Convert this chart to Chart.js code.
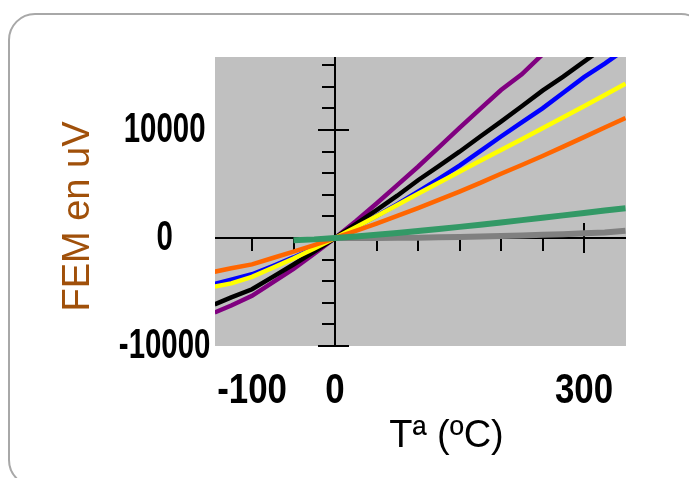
<!DOCTYPE html>
<html><head><meta charset="utf-8">
<script src="https://cdn.jsdelivr.net/npm/chart.js@4.4.1/dist/chart.umd.min.js"></script>
<style>
html,body{margin:0;padding:0;background:#fff;overflow:hidden;}
#wrap{position:relative;width:689px;height:478px;overflow:hidden;}
#frame{position:absolute;left:8px;top:13px;width:696px;height:470px;border:2px solid #a8a8a8;border-radius:27px;}
canvas{position:absolute;left:0;top:0;}
</style></head><body>
<div id="wrap"><div id="frame"></div><canvas id="c" width="689" height="478"></canvas></div>
<script>
// Temperatures (ºC)
const T_ALL = [-145,-125,-100,-75,-50,-25,0,25,50,75,100,125,150,175,200,225,250,275,300,325,350];
const T_S   = [-50,-25,0,25,50,75,100,125,150,175,200,225,250,275,300,325,350];
const T_B   = [0,25,50,75,100,125,150,175,200,225,250,275,300,325,350];

// FEM values (uV)
const purpleVals = [-6900,-6250,-5350,-4100,-2850,-1450,0,1550,3200,4900,6600,8400,10200,11950,13700,15150,17000,18500,null,null,null];
const blackVals  = [-6150,-5500,-4750,-3600,-2450,-1250,0,1277,2585,3918,5350,6650,7990,9400,10780,12200,13650,14950,16330,17700,null];
const blueVals   = [-4250,-3850,-3360,-2600,-1800,-940,0,992,2036,3131,4279,5470,6704,8050,9400,10700,12000,13450,14900,16150,17500];
const yellowVals = [-4500,-4200,-3600,-2750,-1900,-968,0,1000,2023,3058,4096,5124,6138,7150,8150,9141,10153,11176,12209,13248,14293];
const orangeVals = [-3120,-2800,-2440,-1850,-1270,-650,0,659,1340,2050,2774,3530,4302,5100,5950,6760,7597,8465,9341,10234,11100];
const greenVals  = [-200,-127,0,143,299,467,645,833,1029,1232,1441,1655,1874,2097,2323,2553,2750];
const grayVals   = [0,-2,2,15,33,59,92,132,178,230,291,357,431,510,680];

// Axis ticks and labels
const X_TICKS = [-100,-50,0,50,100,150,200,250,300];
const X_LABELS = [-100,0,300];
const X_MAJOR = [300];
const Y_TICKS = [-10000,-8000,-6000,-4000,-2000,0,2000,4000,6000,8000,10000,12000,14000,16000];
const Y_LABELS = [-10000,0,10000];
const Y_MAJOR = [-10000,10000];

function pts(ts, vs){ const out=[]; ts.forEach((t,i)=>{ if(vs[i]!==null) out.push({x:t,y:vs[i]}); }); return out; }

const TICKFAM = "'Liberation Sans', Arial, sans-serif";

// draw the scale's own label items with a horizontal squeeze (narrow bold look)
function squeezeLabels(sx){
  return function(chartArea){
    const ctx=this.ctx;
    const items=this.getLabelItems(chartArea);
    for(const it of items){
      if(!it.label) continue;
      const o=it.options;
      ctx.save();
      ctx.translate(o.translation[0], o.translation[1]);
      ctx.scale(sx,1);
      ctx.font=it.font.string; ctx.fillStyle=o.color;
      ctx.textAlign=o.textAlign; ctx.textBaseline=o.textBaseline;
      ctx.fillText(it.label,0,it.textOffset);
      ctx.restore();
    }
  };
}
function shiftTitle(dx,dy){
  return function(chartArea){
    const orig=Object.getPrototypeOf(this).drawTitle;
    this.ctx.save(); this.ctx.translate(dx,dy); orig.call(this,chartArea); this.ctx.restore();
  };
}

const crossAxes = {
  id:'crossAxes',
  beforeDatasetsDraw(chart){
    const {ctx, chartArea:a, scales:{x,y}} = chart;
    ctx.save();
    ctx.fillStyle='#c0c0c0';
    ctx.fillRect(a.left,a.top,a.right-a.left,a.bottom-a.top);
    const x0=Math.round(x.getPixelForValue(0)), y0=Math.round(y.getPixelForValue(0));
    ctx.strokeStyle='#000'; ctx.lineWidth=2;
    ctx.beginPath();
    ctx.moveTo(x0,a.top); ctx.lineTo(x0,a.bottom);
    ctx.moveTo(a.left,y0); ctx.lineTo(a.right,y0);
    y.ticks.forEach(t=>{ if(t.value===0) return; const py=Math.round(y.getPixelForValue(t.value)); const m=Y_MAJOR.includes(t.value);
      ctx.moveTo(x0-(m?17:13),py); ctx.lineTo(x0+(m?14:0),py); });
    x.ticks.forEach(t=>{ if(t.value===0) return; const px=Math.round(x.getPixelForValue(t.value)); const m=X_MAJOR.includes(t.value);
      ctx.moveTo(px,y0-(m?15:0)); ctx.lineTo(px,y0+(m?15:13)); });
    ctx.stroke();
    ctx.restore();
  }
};

const mk = (label, ts, vs, color, w) => ({label, data: pts(ts,vs), borderColor: color, backgroundColor: color, borderWidth: w, pointRadius: 0, fill: false, tension: 0, clip: 0});

new Chart(document.getElementById('c'), {
  type:'line',
  data:{ datasets:[
    mk('S', T_S, greenVals, '#339966', 6),
    mk('B', T_B, grayVals, '#808080', 6),
    mk('N', T_ALL, orangeVals, '#ff6600', 4.5),
    mk('K', T_ALL, yellowVals, '#ffff00', 4.5),
    mk('J', T_ALL, blackVals, '#000000', 4.5),
    mk('T', T_ALL, blueVals, '#0000ff', 4.5),
    mk('E', T_ALL, purpleVals, '#800080', 4.5)
  ]},
  options:{
    responsive:false, animation:false, devicePixelRatio:1,
    layout:{padding:{left:0,right:63,top:57,bottom:0}},
    plugins:{legend:{display:false}, tooltip:{enabled:false}},
    scales:{
      x:{ type:'linear', position:'bottom', min:-144.6, max:350.6,
        afterBuildTicks:s=>{ s.ticks = X_TICKS.map(v=>({value:v})); },
        afterFit:s=>{ s.height=132; s.drawLabels=squeezeLabels(0.83); s.drawTitle=shiftTitle(26,0); },
        grid:{display:false, drawTicks:false}, border:{display:false},
        ticks:{autoSkip:false, maxRotation:0, padding:20, color:'#000',
          font:{family:TICKFAM, weight:'bold', size:42},
          callback:v=> X_LABELS.includes(v) ? String(v) : ''},
        title:{display:true, text:'Tª (ºC)', color:'#000',
          font:{family:"'Liberation Sans', Arial, sans-serif", size:38}, padding:{top:0,bottom:19}}
      },
      y:{ type:'linear', position:'left', min:-10000, max:16760,
        afterBuildTicks:s=>{ s.ticks = Y_TICKS.map(v=>({value:v})); },
        afterFit:s=>{ s.width=215; s.drawLabels=squeezeLabels(0.70); s.drawTitle=shiftTitle(0,15); },
        grid:{display:false, drawTicks:false}, border:{display:false},
        ticks:{autoSkip:false, crossAlign:'center', padding:-15, color:'#000',
          font:{family:TICKFAM, weight:'bold', size:42},
          callback:v=> Y_LABELS.includes(v) ? String(v) : ''},
        title:{display:true, text:'FEM en uV', color:'#a0500a',
          font:{family:"'Liberation Sans', Arial, sans-serif", size:38}, padding:{top:56,bottom:0}}
      }
    }
  },
  plugins:[crossAxes]
});
</script>
</body></html>
